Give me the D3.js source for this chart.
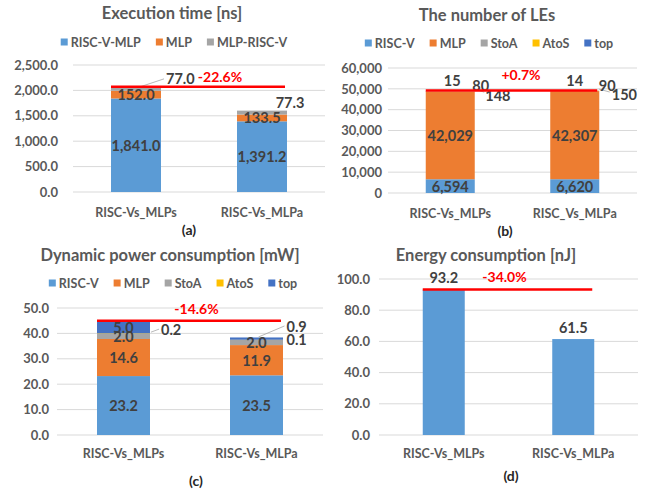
<!DOCTYPE html>
<html>
<head>
<meta charset="utf-8">
<script src="https://cdn.jsdelivr.net/npm/d3@7"></script>
<style>
  body { margin: 0; background: #fff; }
  text { font-family: Lato, "Open Sans", sans-serif; font-weight: bold; }
</style>
</head>
<body>
<svg id="chart" width="645" height="491"></svg>
<script>
// ---- data ----
var categories = ['RISC-Vs_MLPs', 'RISC-Vs_MLPa'];
var categoriesLE = ['RISC-Vs_MLPs', 'RISC_Vs_MLPa'];

// (a) execution time [ns]
var timeSeries = ['RISC-V-MLP', 'MLP', 'MLP-RISC-V'];
var timeRiscvMlp = [1841.0, 1391.2];
var timeMlp = [152.0, 133.5];
var timeMlpRiscv = [77.0, 77.3];
var timeTicks = [0, 500, 1000, 1500, 2000, 2500];

// (b) number of LEs
var unitSeries = ['RISC-V', 'MLP', 'StoA', 'AtoS', 'top'];
var leRiscv = [6594, 6620];
var leMlp = [42029, 42307];
var leStoA = [148, 150];
var leAtoS = [80, 90];
var leTop = [15, 14];
var leTicks = [0, 10000, 20000, 30000, 40000, 50000, 60000];

// (c) dynamic power [mW]
var powerRiscv = [23.2, 23.5];
var powerMlp = [14.6, 11.9];
var powerStoA = [2.0, 2.0];
var powerAtoS = [0.2, 0.1];
var powerTop = [5.0, 0.9];
var powerTicks = [0, 10, 20, 30, 40, 50];

// (d) energy [nJ]
var energySeries = ['Energy'];
var energy = [93.2, 61.5];
var energyTicks = [0, 20, 40, 60, 80, 100];

var changeLabels = ['-22.6%', '+0.7%', '-14.6%', '-34.0%'];

var seriesColors = {
  'RISC-V-MLP': '#5B9BD5', 'RISC-V': '#5B9BD5', 'Energy': '#5B9BD5',
  'MLP': '#ED7D31', 'MLP-RISC-V': '#A5A5A5', 'StoA': '#A5A5A5',
  'AtoS': '#FFC000', 'top': '#4472C4'
};

var svg = d3.select('#chart');

// draw one stacked bar panel
function drawPanel(cfg) {
  var g = svg.append('g');

  var rows = cfg.cats.map(function (c, i) {
    var r = { cat: c };
    cfg.series.forEach(function (s, k) { r[s] = cfg.values[k][i]; });
    return r;
  });
  var layers = d3.stack().keys(cfg.series)(rows);
  var totals = rows.map(function (r) { return d3.sum(cfg.series, function (s) { return r[s]; }); });

  var step = (cfg.right - cfg.left) / cfg.cats.length;
  var pad = 1 - cfg.barW / step;
  var x = d3.scaleBand().domain(cfg.cats).range([cfg.left, cfg.right])
            .paddingInner(pad).paddingOuter(pad / 2);
  var y = d3.scaleLinear().domain([0, d3.max(cfg.ticks)]).range([cfg.bottom, cfg.top]);

  // gridlines
  g.selectAll('line.grid').data(cfg.ticks).enter().append('line')
   .attr('x1', cfg.left).attr('x2', cfg.right)
   .attr('y1', function (d) { return y(d); }).attr('y2', function (d) { return y(d); })
   .attr('stroke', '#D9D9D9').attr('stroke-width', 1);

  // y axis labels
  var axis = g.append('g').attr('transform', 'translate(' + cfg.left + ',0)')
              .call(d3.axisLeft(y).tickValues(cfg.ticks).tickSize(0)
                      .tickPadding(cfg.tickPad).tickFormat(d3.format(cfg.tickFmt)));
  axis.select('.domain').remove();
  axis.selectAll('text').attr('font-size', 13).attr('fill', '#595959')
      .style('font-family', 'Lato, sans-serif').style('font-weight', 'bold');

  // bars
  layers.forEach(function (layer) {
    g.selectAll(null).data(layer).enter().append('rect')
     .attr('x', function (d) { return x(d.data.cat); })
     .attr('y', function (d) { return y(d[1]); })
     .attr('width', x.bandwidth())
     .attr('height', function (d) { return y(d[0]) - y(d[1]); })
     .attr('fill', seriesColors[layer.key]);
  });

  // data labels
  var fmt = d3.format(cfg.labelFmt);
  layers.forEach(function (layer) {
    layer.forEach(function (d, i) {
      var cx = x(d.data.cat) + x.bandwidth() / 2;
      var o = cfg.labels[layer.key + i];
      var v = d.data[layer.key];
      if (!o) {
        g.append('text').attr('x', cx).attr('y', (y(d[0]) + y(d[1])) / 2)
         .attr('text-anchor', 'middle').attr('dominant-baseline', 'central')
         .attr('font-size', 14.5).attr('fill', '#404040').text(fmt(v));
        return;
      }
      var ry = o.ref == 'total' ? y(totals[i]) : (y(d[0]) + y(d[1])) / 2;
      if (o.leader) {
        g.append('line')
         .attr('x1', cx + o.leader[0]).attr('y1', ry + o.leader[1])
         .attr('x2', cx + o.leader[2]).attr('y2', ry + o.leader[3])
         .attr('stroke', '#A6A6A6').attr('stroke-width', 0.8);
      }
      g.append('text').attr('x', cx + o.dx).attr('y', ry + o.dy)
       .attr('text-anchor', o.anchor || 'middle').attr('dominant-baseline', 'central')
       .attr('font-size', 14.5).attr('fill', '#404040').text(fmt(v));
    });
  });

  // red change line at the highest bar total
  var lx1 = x(cfg.cats[0]);
  var lx2 = x(cfg.cats[1]) + x.bandwidth() - 2;
  var ly = y(d3.max(totals));
  g.append('line').attr('x1', lx1).attr('x2', lx2).attr('y1', ly).attr('y2', ly)
   .attr('stroke', '#FF0000').attr('stroke-width', 2.5);
  g.append('text').attr('x', (lx1 + lx2) / 2 + cfg.changeDx).attr('y', ly + cfg.changeDy)
   .attr('text-anchor', 'middle').attr('dominant-baseline', 'central')
   .attr('font-size', 14).attr('fill', '#FF0000').text(cfg.change);

  // category labels
  g.selectAll(null).data(cfg.cats).enter().append('text')
   .attr('x', function (d) { return x(d) + x.bandwidth() / 2; })
   .attr('y', cfg.catY).attr('text-anchor', 'middle').attr('dominant-baseline', 'central')
   .attr('font-size', 12.5).attr('fill', '#595959').text(function (d) { return d; });

  // title and tag
  g.append('text').attr('x', cfg.titleX).attr('y', cfg.titleY)
   .attr('text-anchor', 'middle').attr('dominant-baseline', 'central')
   .attr('font-size', 16.5).attr('fill', '#595959').text(cfg.title);
  g.append('text').attr('x', cfg.tagX).attr('y', cfg.tagY)
   .attr('text-anchor', 'middle').attr('dominant-baseline', 'central')
   .attr('font-size', 14).attr('fill', '#262626').text(cfg.tag);

  // legend
  if (cfg.legend) {
    var lg = g.append('g');
    var pos = 0;
    cfg.series.forEach(function (s) {
      lg.append('rect').attr('x', pos).attr('y', cfg.legendY - 3.5)
        .attr('width', 7).attr('height', 7).attr('fill', seriesColors[s]);
      var t = lg.append('text').attr('x', pos + 10).attr('y', cfg.legendY)
                .attr('dominant-baseline', 'central').attr('font-size', 12.5)
                .attr('fill', '#595959').text(s);
      pos += 10 + t.node().getComputedTextLength() + 15;
    });
    pos -= 15;
    lg.attr('transform', 'translate(' + (cfg.legendX - pos / 2) + ',0)');
  }
}

drawPanel({
  cats: categories, series: timeSeries, values: [timeRiscvMlp, timeMlp, timeMlpRiscv],
  ticks: timeTicks, tickFmt: ',.1f', labelFmt: ',.1f',
  left: 73, right: 325, bottom: 192, top: 65, barW: 50, tickPad: 15,
  title: 'Execution time [ns]', titleX: 172, titleY: 13,
  legend: true, legendX: 174, legendY: 42,
  catY: 212, tag: '(a)', tagX: 189, tagY: 229,
  change: changeLabels[0], changeDx: 22, changeDy: -10,
  labels: {
    'MLP-RISC-V0': { ref: 'total', dx: 30, dy: -8, anchor: 'start', leader: [1, 1, 28, -8] },
    'MLP-RISC-V1': { ref: 'total', dx: 28, dy: -8 }
  }
});

drawPanel({
  cats: categoriesLE, series: unitSeries, values: [leRiscv, leMlp, leStoA, leAtoS, leTop],
  ticks: leTicks, tickFmt: ',', labelFmt: ',',
  left: 388, right: 637, bottom: 193, top: 68, barW: 49, tickPad: 6,
  title: 'The number of LEs', titleX: 487, titleY: 15,
  legend: true, legendX: 489, legendY: 43,
  catY: 213, tag: '(b)', tagX: 505, tagY: 230,
  change: changeLabels[1], changeDx: 9.5, changeDy: -16.5,
  labels: {
    'top0': { ref: 'total', dx: 2, dy: -11 },
    'AtoS0': { ref: 'total', dx: 22, dy: -6, anchor: 'start' },
    'StoA0': { ref: 'total', dx: 35, dy: 4, anchor: 'start', leader: [25, -2, 34, 1] },
    'top1': { ref: 'total', dx: 0, dy: -10.5 },
    'AtoS1': { ref: 'total', dx: 24, dy: -5.5, anchor: 'start' },
    'StoA1': { ref: 'total', dx: 37, dy: 3.5, anchor: 'start', leader: [24, -1.5, 35, 1.5] }
  }
});

drawPanel({
  cats: categories, series: unitSeries, values: [powerRiscv, powerMlp, powerStoA, powerAtoS, powerTop],
  ticks: powerTicks, tickFmt: '.1f', labelFmt: '.1f',
  left: 57, right: 323, bottom: 435, top: 308, barW: 53, tickPad: 8,
  title: 'Dynamic power consumption [mW]', titleX: 170, titleY: 255,
  legend: true, legendX: 173, legendY: 283,
  catY: 453, tag: '(c)', tagX: 196, tagY: 480,
  change: changeLabels[2], changeDx: 7.5, changeDy: -12.5,
  labels: {
    'AtoS0': { ref: 'mid', dx: 37.5, dy: -4, anchor: 'start', leader: [27.5, -1.5, 35.5, -4.5] },
    'top1': { ref: 'total', dx: 30, dy: -11, anchor: 'start', leader: [2, -0.5, 28, -11.5] },
    'AtoS1': { ref: 'total', dx: 30, dy: 2, anchor: 'start' }
  }
});

drawPanel({
  cats: categories, series: energySeries, values: [energy],
  ticks: energyTicks, tickFmt: '.1f', labelFmt: '.1f',
  left: 379, right: 638, bottom: 435, top: 279, barW: 42, tickPad: 9,
  title: 'Energy consumption [nJ]', titleX: 486, titleY: 255,
  legend: false,
  catY: 453, tag: '(d)', tagX: 511, tagY: 475,
  change: changeLabels[3], changeDx: -3, changeDy: -13.5,
  labels: {
    'Energy0': { ref: 'total', dx: 0, dy: -12.5 },
    'Energy1': { ref: 'total', dx: 0, dy: -12 }
  }
});
</script>
</body>
</html>
